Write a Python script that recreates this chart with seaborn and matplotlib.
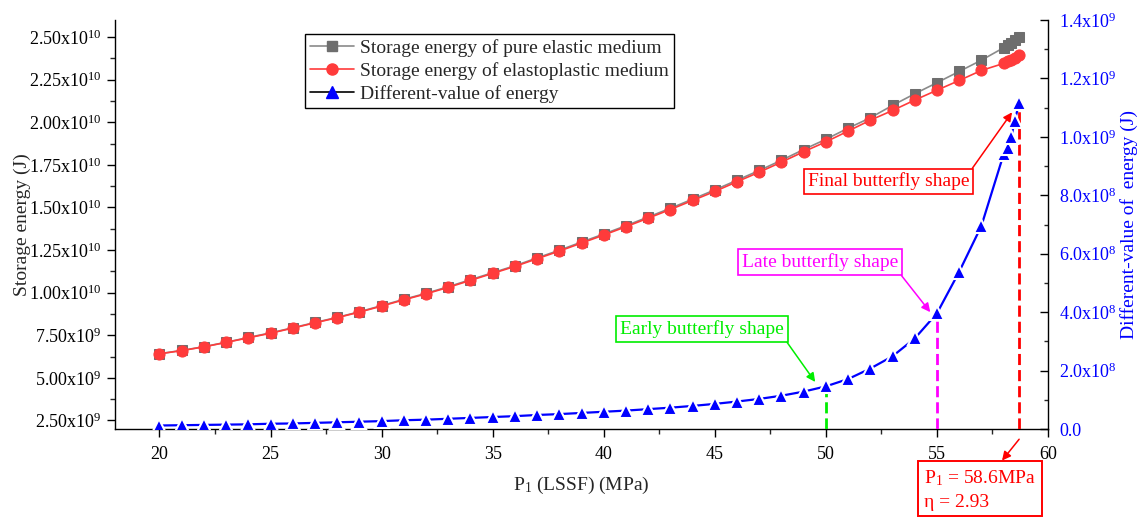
import matplotlib
matplotlib.use("Agg")
import matplotlib.pyplot as plt
from matplotlib.lines import Line2D
from matplotlib.ticker import MultipleLocator
import seaborn as sns
import numpy as np

# ---------------- data ----------------
p1 = [20, 21, 22, 23, 24, 25, 26, 27, 28, 29,
      30, 31, 32, 33, 34, 35, 36, 37, 38, 39,
      40, 41, 42, 43, 44, 45, 46, 47, 48, 49,
      50, 51, 52, 53, 54, 55, 56, 57,
      58, 58.2, 58.35, 58.5, 58.7]

elastic_e10 = [0.642, 0.661, 0.683, 0.709, 0.737, 0.764, 0.794, 0.825, 0.855, 0.888,
               0.924, 0.961, 0.996, 1.035, 1.076, 1.117, 1.158, 1.204, 1.249, 1.297,
               1.344, 1.393, 1.444, 1.495, 1.549, 1.603, 1.660, 1.717, 1.777, 1.840,
               1.900, 1.965, 2.026, 2.099, 2.167, 2.232, 2.298, 2.364,
               2.437, 2.453, 2.467, 2.482, 2.502]

elastoplastic_e10 = [0.641, 0.660, 0.682, 0.708, 0.735, 0.762, 0.792, 0.823, 0.853, 0.886,
                     0.921, 0.958, 0.993, 1.031, 1.072, 1.113, 1.154, 1.199, 1.244, 1.291,
                     1.338, 1.387, 1.437, 1.488, 1.541, 1.594, 1.651, 1.707, 1.766, 1.827,
                     1.885, 1.948, 2.012, 2.069, 2.130, 2.188, 2.245, 2.304,
                     2.345, 2.358, 2.368, 2.378, 2.392]

diff_e9 = [0.012, 0.013, 0.014, 0.015, 0.016, 0.018, 0.019, 0.021, 0.023, 0.025,
           0.027, 0.030, 0.032, 0.035, 0.038, 0.041, 0.044, 0.048, 0.051, 0.055,
           0.059, 0.063, 0.068, 0.073, 0.079, 0.086, 0.094, 0.103, 0.114, 0.128,
           0.146, 0.171, 0.207, 0.249, 0.310, 0.396, 0.538, 0.695,
           0.940, 0.963, 1.000, 1.055, 1.115]

legend_labels = ["Storage energy of pure elastic medium",
                 "Storage energy of elastoplastic medium",
                 "Different-value of energy"]

x = np.array(p1, dtype=float)
elastic = np.array(elastic_e10) * 1e10
plastic = np.array(elastoplastic_e10) * 1e10
diff = np.array(diff_e9) * 1e9

# ---------------- style ----------------
sns.set_theme(style="ticks")
plt.rcParams["font.family"] = ["Liberation Serif", "DejaVu Serif"]
plt.rcParams["mathtext.fontset"] = "custom"
plt.rcParams["mathtext.rm"] = "Liberation Serif"
plt.rcParams["mathtext.it"] = "Liberation Serif:italic"
plt.rcParams["mathtext.bf"] = "Liberation Serif:bold"
plt.rcParams["axes.linewidth"] = 1.0

FS_TICK = 13
FS = 14
GRAY_M = "#6e6e6e"
GRAY_L = "#8a8a8a"
RED = "#ff3b3b"
BLUE = "#0000ff"
GREEN = "#00ee00"
MAGENTA = "#ff00ff"
DRED = "#ff0000"

fig = plt.figure(figsize=(11.42, 5.18), dpi=100)
ax = fig.add_axes([0.1007, 0.1718, 0.8170, 0.7896])
ax2 = ax.twinx()

# left axis series
sns.lineplot(x=x, y=elastic, ax=ax, color=GRAY_L, linewidth=1.2, marker="s",
             markersize=6.5, markerfacecolor=GRAY_M, markeredgecolor=GRAY_M,
             sort=False, legend=False, zorder=3)
sns.lineplot(x=x, y=plastic, ax=ax, color=RED, linewidth=1.2, marker="o",
             markersize=8, markerfacecolor=RED, markeredgecolor=RED,
             sort=False, legend=False, zorder=4)

# right axis: vertical guide lines
i50 = p1.index(50)
i55 = p1.index(55)
ilast = len(p1) - 1
ax2.vlines(x[i50], 0, diff[i50], colors=GREEN, linestyles=(0, (4, 1.8)), linewidth=2.0, zorder=2)
ax2.vlines(x[i55], 0, diff[i55], colors=MAGENTA, linestyles=(0, (4, 1.8)), linewidth=2.0, zorder=2)
ax2.vlines(x[ilast], 0, diff[ilast], colors=DRED, linestyles=(0, (4, 1.8)), linewidth=2.0, zorder=2)

sns.lineplot(x=x, y=diff, ax=ax2, color=BLUE, linewidth=1.6, marker="^",
             markersize=10.5, markerfacecolor=BLUE, markeredgecolor="white",
             markeredgewidth=1.5, sort=False, legend=False, zorder=3)

# ---------------- axes ----------------
ax.set_xlim(18, 60)
ax.set_ylim(2.0e9, 2.6e10)
ax2.set_ylim(0, 1.4e9)

ax.set_xticks(np.arange(20, 61, 5))
ax.set_xticklabels([str(v) for v in range(20, 61, 5)])
ax.xaxis.set_minor_locator(MultipleLocator(2.5))

lt = np.arange(2.5e9, 2.51e10, 2.5e9)
def sci_lab(v, dec):
    e = int(np.floor(np.log10(v)))
    m = v / 10 ** e
    return f"{m:.{dec}f}x10$^{{{e}}}$"
ax.set_yticks(lt)
ax.set_yticklabels([sci_lab(v, 2) for v in lt])
ax.yaxis.set_minor_locator(MultipleLocator(1.25e9))

rt = np.arange(0, 1.41e9, 2e8)
ax2.set_yticks(rt)
ax2.set_yticklabels(["0.0"] + [sci_lab(v, 1) for v in rt[1:]])
ax2.yaxis.set_minor_locator(MultipleLocator(1e8))

ax.tick_params(axis="both", which="major", direction="out", length=6, width=1.0,
               labelsize=FS_TICK, colors="black")
ax.tick_params(axis="both", which="minor", direction="out", length=3.5, width=1.0)
ax.tick_params(axis="x", pad=6)
ax2.tick_params(axis="y", which="major", direction="in", length=5.5, width=1.0,
                labelsize=FS_TICK, labelcolor=BLUE, colors="black", pad=8)
ax2.tick_params(axis="y", which="minor", direction="in", length=3, width=1.0)

for a in (ax, ax2):
    a.spines["top"].set_visible(False)
    for s in a.spines.values():
        s.set_color("black")
ax.spines["right"].set_visible(False)
ax2.spines["left"].set_visible(False)
ax2.spines["bottom"].set_visible(False)

ax.set_xlabel("P$_1$ (LSSF) (MPa)", fontsize=FS)
ax.xaxis.set_label_coords(0.5, -0.112)
ax.set_ylabel("Storage energy (J)", fontsize=FS)
ax.yaxis.set_label_coords(-0.09, 0.5)
ax2.set_ylabel("Different-value of  energy (J)", fontsize=FS, color=BLUE)
ax2.yaxis.set_label_coords(1.077, 0.5)

# ---------------- legend ----------------
handles = [
    Line2D([], [], color=GRAY_L, lw=1.2, marker="s", ms=6.5, mfc=GRAY_M, mec=GRAY_M),
    Line2D([], [], color=RED, lw=1.2, marker="o", ms=8, mfc=RED, mec=RED),
    Line2D([], [], color="black", lw=1.2, marker="^", ms=9, mfc=BLUE, mec=BLUE),
]
leg = ax2.legend(handles, legend_labels, loc="upper left", bbox_to_anchor=(0.2036, 0.9658),
                 borderaxespad=0, frameon=True, fancybox=False, fontsize=FS,
                 handlelength=2.25, handletextpad=0.3, borderpad=0.28, labelspacing=0.25,
                 edgecolor="black", framealpha=1)
leg.get_frame().set_linewidth(1.0)

# ---------------- annotations ----------------
def note(text, tip, center, color, relpos):
    ax2.annotate(text, xy=tip, xytext=center, ha="center", va="center",
                 color=color, fontsize=FS, zorder=6,
                 bbox=dict(boxstyle="square,pad=0.2", fc="white", ec=color, lw=1.2),
                 arrowprops=dict(arrowstyle="-|>", color=color, lw=1.1, relpos=relpos,
                                 shrinkA=0, shrinkB=0, mutation_scale=13))

note("Early butterfly shape", (49.52, 0.161e9), (44.43, 0.342e9), GREEN, (1, 0))
note("Late butterfly shape", (54.70, 0.400e9), (49.73, 0.571e9), MAGENTA, (1, 0))
note("Final butterfly shape", (58.38, 1.084e9), (52.82, 0.847e9), DRED, (1, 1))

ax2.annotate("", xy=(57.93, -0.108e9), xytext=(x[ilast], -0.035e9),
             annotation_clip=False,
             arrowprops=dict(arrowstyle="-|>", color=DRED, lw=1.1, shrinkA=0, shrinkB=0,
                             mutation_scale=13))
fig.text(924 / 1142, 1 - 468 / 518, "P$_1$ = 58.6MPa\nη = 2.93", ha="left", va="top",
         color=DRED, fontsize=FS, linespacing=1.45,
         bbox=dict(boxstyle="square,pad=0.3", fc="white", ec=DRED, lw=1.4))

fig.savefig("out.png", dpi=100)
